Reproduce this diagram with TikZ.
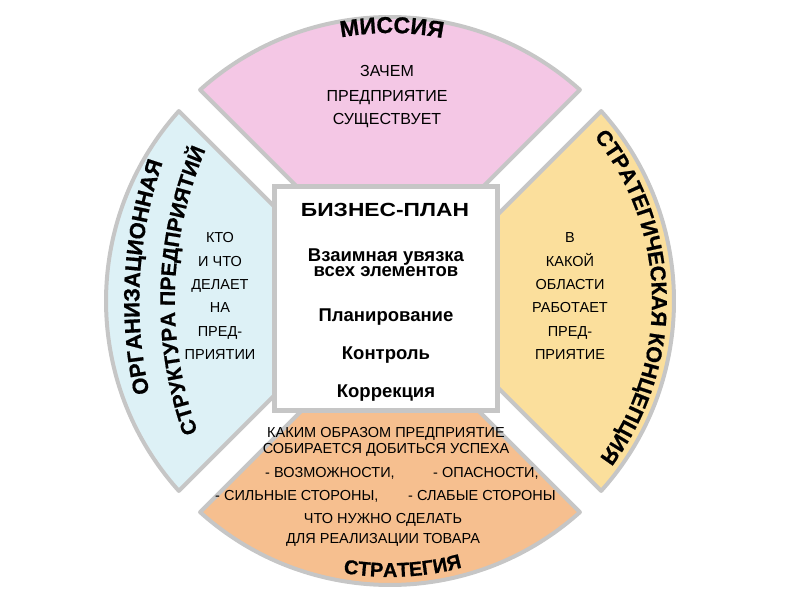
\documentclass[tikz,border=0pt]{standalone}
\usepackage{fontspec}
\setmainfont{Liberation Sans}
\newfontfamily\heavyfont{Liberation Sans}[FakeBold=0.8]
\usetikzlibrary{calc,decorations.text}
\definecolor{pinkc}{HTML}{F4C7E5}
\definecolor{yellowc}{HTML}{FBDF9C}
\definecolor{orangec}{HTML}{F6BF8F}
\definecolor{bluec}{HTML}{DDF1F6}
\definecolor{grayb}{HTML}{C6C6C6}
\newcommand\ttlfont[1]{\heavyfont\bfseries\fontsize{#1}{#1}\selectfont}
\tikzset{
  sector/.style={draw=grayb, line width=4pt, line join=round},
  body/.style={font=\fontsize{14.5pt}{14.5pt}\selectfont, text=black, inner sep=0pt, anchor=base},
  bodyL/.style={body, anchor=base west},
  planbox/.style={draw=grayb, line width=5pt, fill=white, inner sep=0pt, minimum width=223pt, minimum height=224pt},
  plantext/.style={font=\bfseries\fontsize{18.5pt}{18.5pt}\selectfont, text=black, inner sep=0pt, anchor=base}
}
\begin{document}
\begin{tikzpicture}[x=1pt,y=1pt]
\useasboundingbox (0,0) rectangle (800,600);
\coordinate (C) at (390,299);
\coordinate (CL) at (560,299);
% sectors
\foreach \a/\c in {90/pinkc,0/yellowc,270/orangec,180/bluec}{
  \filldraw[sector, fill=\c] ($(C)+(\a:21.2)$) -- ($(C)+(\a-41.97:284)$)
     arc[start angle=\a-41.97, end angle=\a+41.97, radius=284] -- cycle;
}
% central box
\node[planbox] (plan) at (386,301.5) {};
\node[plantext, font=\bfseries\fontsize{19pt}{19pt}\selectfont] (p1) at (385,383) {\addfontfeature{FakeStretch=1.2}БИЗНЕС-ПЛАН};
\node[plantext] (p2) at (386,338.3) {Взаимная увязка};
\node[plantext] (p3) at (386,323) {всех элементов};
\node[plantext] (p4) at (386,278) {Планирование};
\node[plantext] (p5) at (386,240) {Контроль};
\node[plantext] (p6) at (386,202) {Коррекция};
% mission text
\node[body, font=\fontsize{16pt}{16pt}\selectfont] (m1) at (387,523) {ЗАЧЕМ};
\node[body, font=\fontsize{16pt}{16pt}\selectfont] (m2) at (387,498) {ПРЕДПРИЯТИЕ};
\node[body, font=\fontsize{16pt}{16pt}\selectfont] (m3) at (387,475) {СУЩЕСТВУЕТ};
% left text
\node[body] (l1) at (220,357) {КТО};
\node[body] (l2) at (220,333) {И ЧТО};
\node[body] (l3) at (220,310) {ДЕЛАЕТ};
\node[body] (l4) at (220,287) {НА};
\node[body] (l5) at (220,263) {ПРЕД-};
\node[body] (l6) at (220,240) {ПРИЯТИИ};
% right text
\node[body] (r1) at (570,357) {В};
\node[body] (r2) at (570,333) {КАКОЙ};
\node[body] (r3) at (570,310) {ОБЛАСТИ};
\node[body] (r4) at (570,287) {РАБОТАЕТ};
\node[body] (r5) at (570,263) {ПРЕД-};
\node[body] (r6) at (570,240) {ПРИЯТИЕ};
% bottom text
\node[body] (b1) at (386,163) {КАКИМ ОБРАЗОМ ПРЕДПРИЯТИЕ};
\node[body] (b2) at (386,147) {СОБИРАЕТСЯ ДОБИТЬСЯ УСПЕХА};
\node[bodyL] (b3a) at (265,123) {- ВОЗМОЖНОСТИ,};
\node[bodyL] (b3b) at (433,123) {- ОПАСНОСТИ,};
\node[bodyL] (b4a) at (215,100) {- СИЛЬНЫЕ СТОРОНЫ,};
\node[bodyL] (b4b) at (408,100) {- СЛАБЫЕ СТОРОНЫ};
\node[body] (b5) at (383,77) {ЧТО НУЖНО СДЕЛАТЬ};
\node[body] (b6) at (383,57) {ДЛЯ РЕАЛИЗАЦИИ ТОВАРА};
% curved titles
\path[decorate, decoration={text along path, text align=center, text={|\ttlfont{23pt}|МИССИЯ}}]
  ($(C)+(109.6:268)$) arc[start angle=109.6, end angle=69.6, radius=268];
\path[decorate, decoration={text along path, text align=center, text={|\ttlfont{21.5pt}|СТРАТЕГИЧЕСКАЯ КОНЦЕПЦИЯ}}]
  ($(C)+(51:262)$) arc[start angle=51, end angle=-49, radius=262];
\path[decorate, decoration={text along path, text align=center, text={|\ttlfont{22pt}|ОРГАНИЗАЦИОННАЯ}}]
  ($(CL)+(211.7:420.7)$) arc[start angle=211.7, end angle=141.7, radius=420.7];
\path[decorate, decoration={text along path, text align=center, text={|\ttlfont{21pt}|СТРУКТУРА ПРЕДПРИЯТИЙ}}]
  ($(CL)+(208.4:385.2)$) arc[start angle=208.4, end angle=148.4, radius=385.2];
\path[decorate, decoration={text along path, text align=center, text={|\ttlfont{20pt}|СТРАТЕГИЯ}}]
  ($(C)+(247.7:276)$) arc[start angle=247.7, end angle=297.7, radius=276];
\end{tikzpicture}
\end{document}
